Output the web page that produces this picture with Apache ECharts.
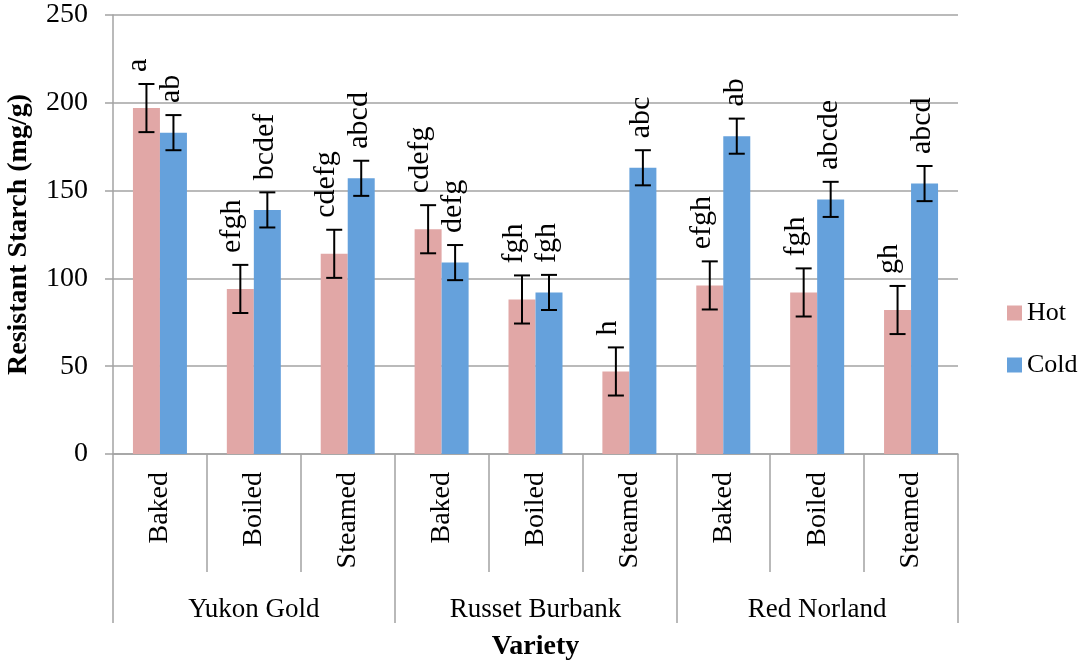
<!DOCTYPE html>
<html>
<head>
<meta charset="utf-8">
<script src="https://cdn.jsdelivr.net/npm/echarts@6/dist/echarts.min.js"></script>
<style>
  html, body { margin: 0; padding: 0; background: #fff; }
  #chart { width: 1080px; height: 661px; }
</style>
</head>
<body>
<div id="chart"></div>
<script>
var methods = ['Baked', 'Boiled', 'Steamed', 'Baked', 'Boiled', 'Steamed', 'Baked', 'Boiled', 'Steamed'];
var varieties = ['Yukon Gold', 'Russet Burbank', 'Red Norland'];
var hotValues = [197, 94, 114, 128, 88, 47, 96, 92, 82];
var coldValues = [183, 139, 157, 109, 92, 163, 181, 145, 154];
var hotErr = [13.7, 13.7, 13.7, 13.7, 13.7, 13.7, 13.7, 13.7, 13.7];
var coldErr = [10, 10, 10, 10, 10, 10, 10, 10, 10];
var hotLetters = ['a', 'efgh', 'cdefg', 'cdefg', 'fgh', 'h', 'efgh', 'fgh', 'gh'];
var coldLetters = ['ab', 'bcdef', 'abcd', 'defg', 'fgh', 'abc', 'ab', 'abcde', 'abcd'];
var yTicks = [0, 50, 100, 150, 200, 250];

var chartDom = document.getElementById('chart');
var myChart = echarts.init(chartDom);
var option;

var FONT = '"Liberation Serif", "DejaVu Serif", serif';
var GRAY = '#a3a3a3';
var BAR_W = 27;

function errData(values, errs) {
  return values.map(function (v, i) { return [i, v, errs[i]]; });
}

// draws the error bar plus the significance letters above it
function errRenderer(side, letters, dx) {
  return function (params, api) {
    var i = api.value(0);
    var v = api.value(1);
    var e = api.value(2);
    var x = api.coord([i, v])[0] + side * BAR_W / 2;
    var yHi = api.coord([i, v + e])[1];
    var yLo = api.coord([i, v - e])[1];
    var st = { stroke: '#000', lineWidth: 2 };
    return {
      type: 'group',
      children: [
        { type: 'line', shape: { x1: x, y1: yHi, x2: x, y2: yLo }, style: st },
        { type: 'line', shape: { x1: x - 8, y1: yHi, x2: x + 8, y2: yHi }, style: st },
        { type: 'line', shape: { x1: x - 8, y1: yLo, x2: x + 8, y2: yLo }, style: st },
        {
          type: 'text',
          x: x + dx,
          y: yHi - 12,
          rotation: Math.PI / 2,
          style: {
            text: letters[i],
            fontSize: 30,
            fontFamily: FONT,
            fill: '#000',
            align: 'left',
            verticalAlign: 'middle'
          }
        }
      ]
    };
  };
}

option = {
  backgroundColor: '#fff',
  animation: false,
  grid: { left: 113, right: 122, top: 15, bottom: 207, outerBoundsMode: 'none' },
  legend: {
    data: ['Hot', 'Cold'],
    orient: 'vertical',
    left: 1007,
    top: 300,
    padding: 0,
    itemWidth: 15,
    itemHeight: 15,
    itemGap: 26,
    icon: 'rect',
    textStyle: { fontFamily: FONT, fontSize: 26, color: '#000' }
  },
  xAxis: [
    {
      type: 'category',
      data: methods,
      position: 'bottom',
      axisLine: { lineStyle: { color: GRAY, width: 1.5 } },
      axisTick: { show: true, interval: 0, length: 118, lineStyle: { color: GRAY, width: 1.5 } },
      axisLabel: {
        interval: 0,
        rotate: 90,
        margin: 18,
        fontFamily: FONT,
        fontSize: 28,
        color: '#000'
      }
    },
    {
      type: 'category',
      data: varieties,
      position: 'bottom',
      axisLine: { show: false },
      axisTick: { show: true, interval: 0, length: 169, lineStyle: { color: GRAY, width: 1.5 } },
      axisLabel: {
        interval: 0,
        margin: 142,
        fontFamily: FONT,
        fontSize: 27,
        color: '#000'
      },
      name: 'Variety',
      nameLocation: 'middle',
      nameGap: 179,
      nameTextStyle: { fontFamily: FONT, fontSize: 28, fontWeight: 'bold', color: '#000' }
    }
  ],
  yAxis: {
    type: 'value',
    min: yTicks[0],
    max: yTicks[yTicks.length - 1],
    interval: 50,
    axisLine: { show: true, lineStyle: { color: GRAY, width: 1.5 } },
    axisTick: { show: true, length: 8, lineStyle: { color: GRAY, width: 1.5 } },
    splitLine: { lineStyle: { color: GRAY, width: 1.5 } },
    axisLabel: { margin: 25, fontFamily: FONT, fontSize: 28, color: '#000' },
    name: 'Resistant Starch (mg/g)',
    nameLocation: 'middle',
    nameGap: 80,
    nameTextStyle: { fontFamily: FONT, fontSize: 28, fontWeight: 'bold', color: '#000' }
  },
  series: [
    {
      name: 'Hot',
      type: 'bar',
      data: hotValues,
      barWidth: BAR_W,
      barGap: '0%',
      itemStyle: { color: '#E1A7A6' }
    },
    {
      name: 'Cold',
      type: 'bar',
      data: coldValues,
      barWidth: BAR_W,
      barGap: '0%',
      itemStyle: { color: '#65A1DC' }
    },
    {
      type: 'custom',
      data: errData(hotValues, hotErr),
      encode: { x: 0, y: 1 },
      renderItem: errRenderer(-1, hotLetters, -8),
      z: 5
    },
    {
      type: 'custom',
      data: errData(coldValues, coldErr),
      encode: { x: 0, y: 1 },
      renderItem: errRenderer(1, coldLetters, -2),
      z: 5
    }
  ]
};

option && myChart.setOption(option);
</script>
</body>
</html>
